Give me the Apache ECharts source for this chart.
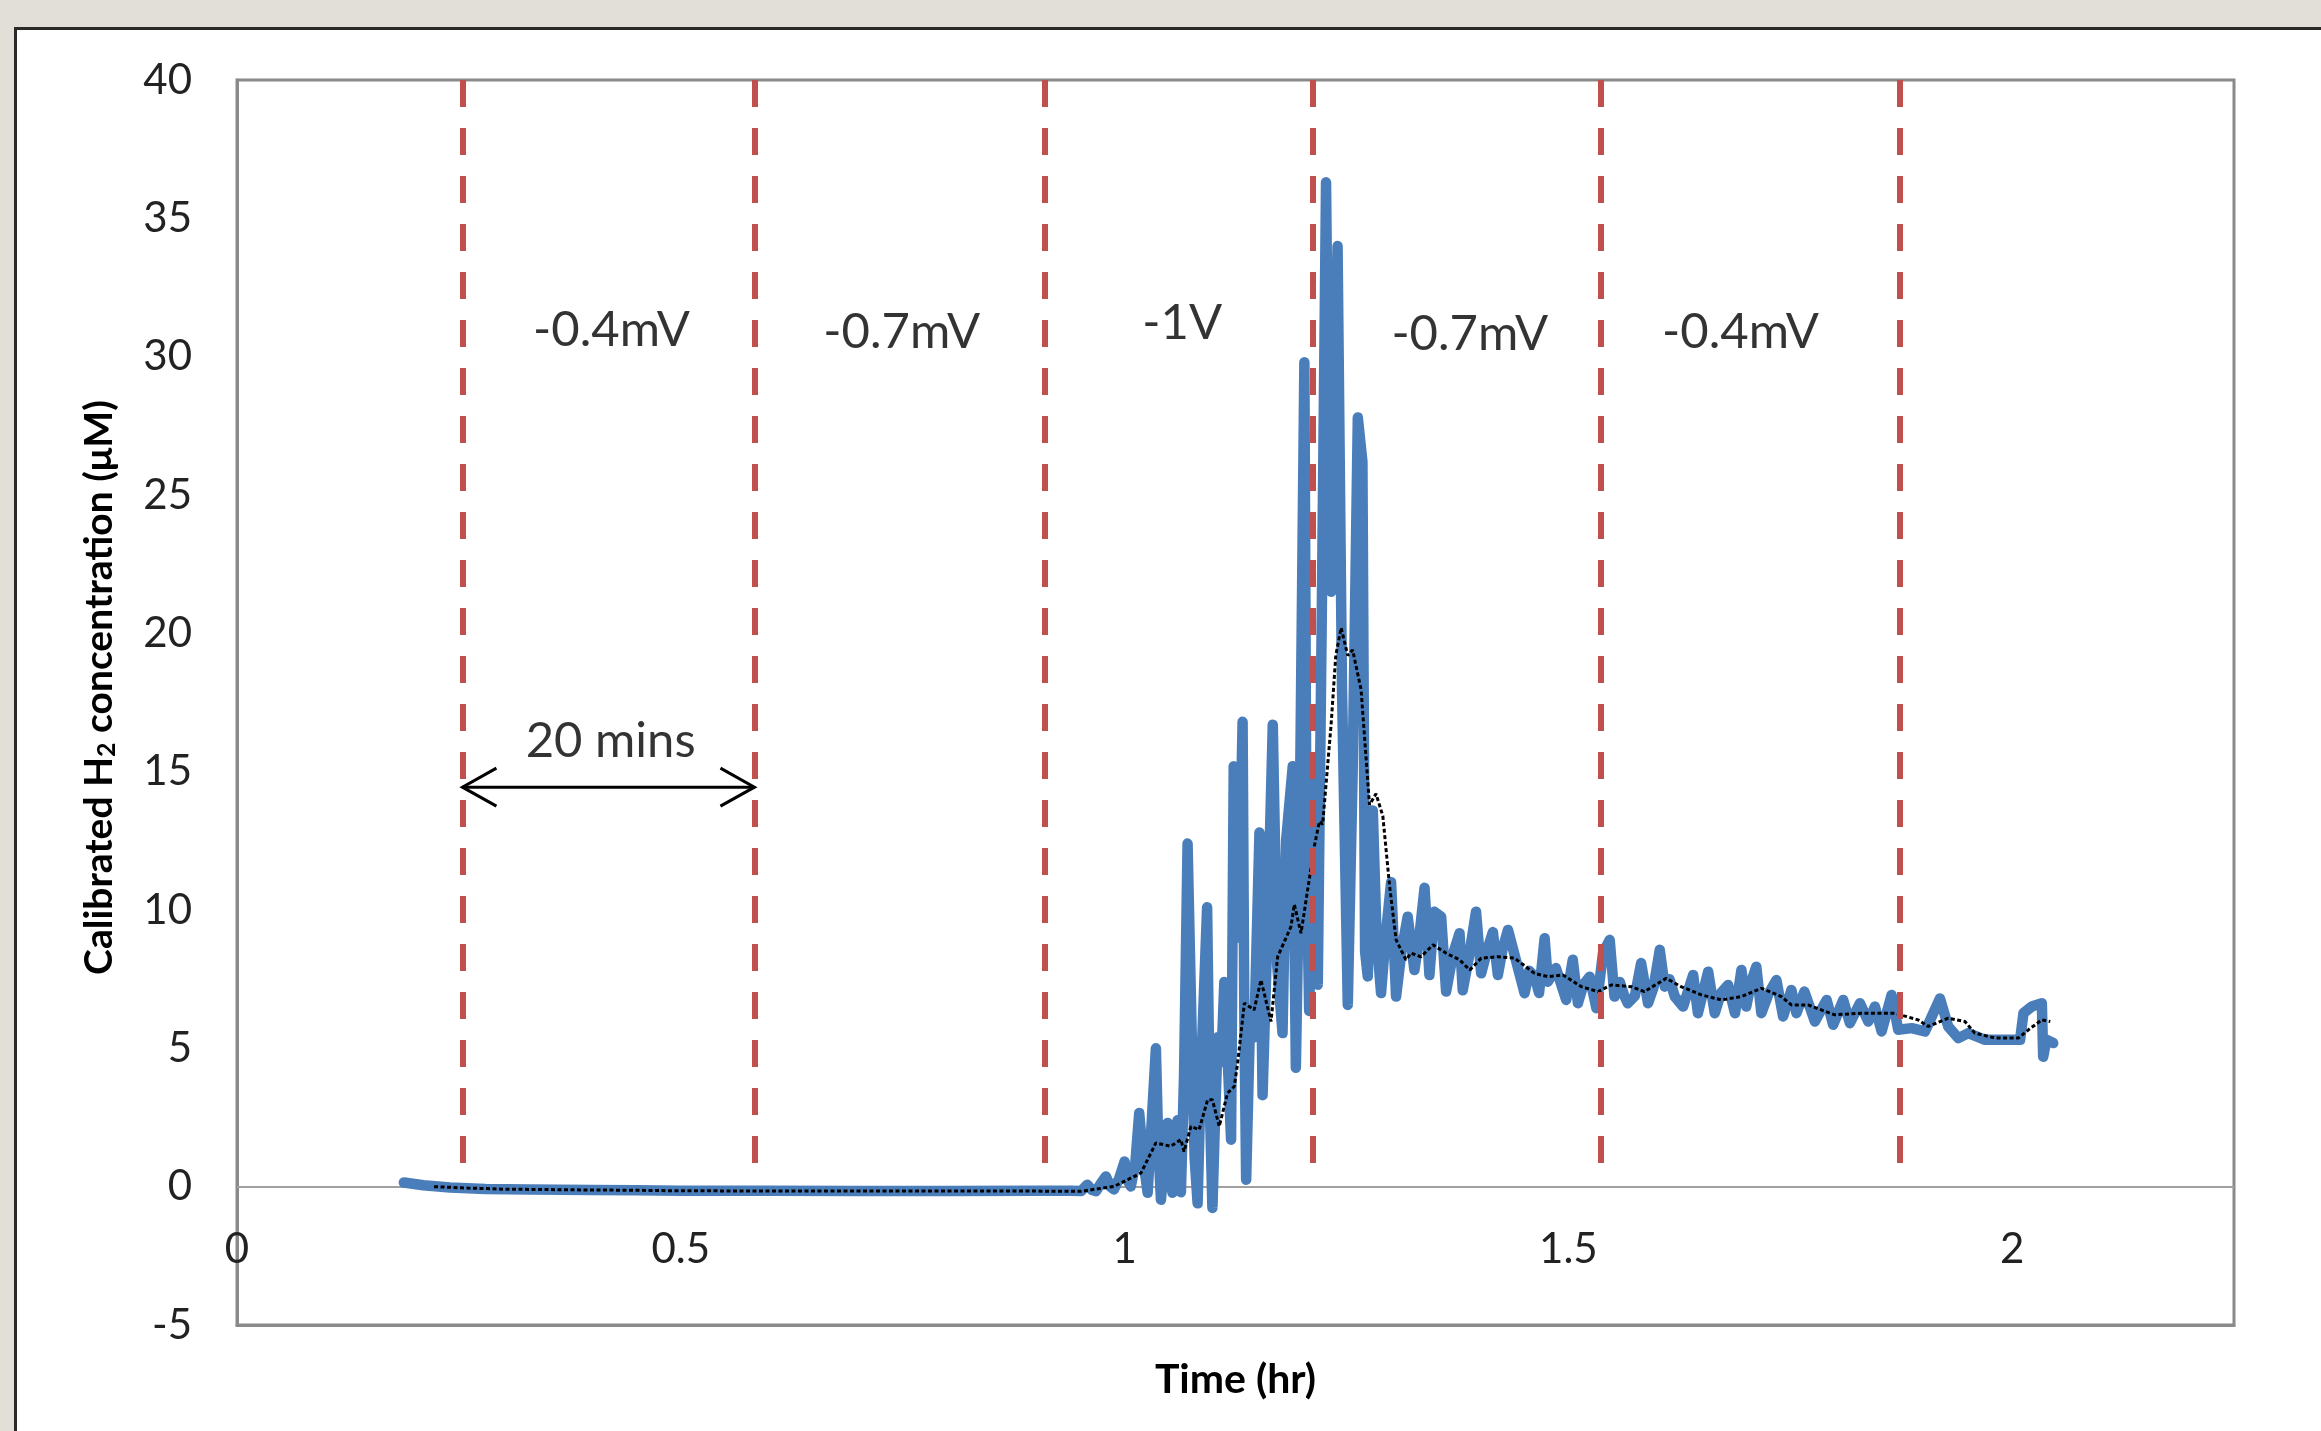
<!DOCTYPE html>
<html>
<head>
<meta charset="utf-8">
<script src="https://cdn.jsdelivr.net/npm/echarts@6/dist/echarts.min.js"></script>
<style>
  html, body { margin: 0; padding: 0; width: 2321px; height: 1431px; overflow: hidden; background: #e2dfd8; }
  #frame { position: absolute; left: 14px; top: 27px; width: 2400px; height: 1500px; background: #fff; border: 3px solid #2a2a2a; box-sizing: border-box; }
  #chart { position: absolute; left: 0; top: 0; width: 2321px; height: 1431px; }
</style>
</head>
<body>
<div id="frame"></div>
<div id="chart"></div>
<script>
// ---- Raw calibrated H2 concentration (blue trace) ----
const timeHr = [
  0.188, 0.21, 0.24, 0.28, 0.33, 0.40, 0.45, 0.50, 0.60, 0.70, 0.80, 0.90, 0.94,
  0.951, 0.958, 0.963, 0.968, 0.974, 0.979, 0.984, 0.988, 0.994, 1.000, 1.004, 1.007, 1.012,
  1.0165, 1.021, 1.026, 1.030, 1.0353, 1.038, 1.041, 1.045, 1.0485, 1.051, 1.054, 1.057, 1.0598,
  1.0635, 1.067, 1.071, 1.076, 1.079, 1.0823, 1.086, 1.093, 1.096, 1.099, 1.102, 1.105, 1.109,
  1.1124, 1.117, 1.120, 1.123, 1.127, 1.130, 1.133, 1.135, 1.137, 1.141, 1.146, 1.152, 1.1555,
  1.161, 1.167, 1.172, 1.178, 1.182, 1.1895, 1.193, 1.197, 1.2026, 1.205, 1.208, 1.214, 1.2177,
  1.222, 1.227, 1.2305, 1.2327, 1.240, 1.245, 1.2515, 1.257, 1.2628, 1.268, 1.271, 1.274, 1.2797,
  1.284, 1.289, 1.294, 1.3003, 1.3059, 1.312, 1.319, 1.3266, 1.332, 1.338, 1.3435, 1.349, 1.3567,
  1.3623, 1.370, 1.3774, 1.381, 1.388, 1.396, 1.4018, 1.409, 1.415, 1.4206, 1.426, 1.432, 1.4394,
  1.4507, 1.456, 1.462, 1.467, 1.4733, 1.477, 1.486, 1.4976, 1.505, 1.5108, 1.517, 1.524, 1.5316,
  1.539, 1.5466, 1.552, 1.558, 1.563, 1.567, 1.575, 1.582, 1.5898, 1.596, 1.603, 1.6086, 1.614,
  1.62, 1.6293, 1.6406, 1.646, 1.6575, 1.665, 1.672, 1.68, 1.6878, 1.695, 1.7005, 1.706, 1.7118,
  1.7175, 1.726, 1.7344, 1.742, 1.7513, 1.757, 1.766, 1.7778, 1.791, 1.7984, 1.8097, 1.8172,
  1.8285, 1.838, 1.8454, 1.853, 1.8642, 1.8717, 1.8868, 1.9018, 1.9187, 1.928, 1.9394, 1.9507,
  1.9695, 1.9883, 2.009, 2.0128, 2.022, 2.0335, 2.035, 2.0387, 2.0463
];
const h2Raw = [
  0.15, 0.05, -0.03, -0.08, -0.10, -0.12, -0.13, -0.15, -0.15, -0.16, -0.16, -0.15, -0.15,
  -0.16, 0.07, -0.12, -0.16, 0.15, 0.37, 0.0, -0.10, 0.30, 0.91, 0.20, 0.01, 0.80,
  2.66, 1.0, -0.22, 2.0, 5.0, 1.5, -0.47, 1.0, 2.3, 0.5, -0.22, 1.2, 2.4,
  -0.20, 4.0, 12.4, 5.0, 1.0, -0.6, 4.0, 10.1, 3.0, -0.77, 2.5, 5.4, 4.5,
  7.4, 4.0, 1.7, 15.2, 9.0, 12.0, 16.8, 6.0, 0.25, 5.5, 5.4, 12.8, 3.3,
  9.2, 16.7, 8.0, 5.55, 12.5, 15.2, 4.3, 12.0, 29.8, 12.0, 6.35, 15.0, 7.3,
  20.0, 36.3, 25.0, 21.5, 34.0, 18.0, 6.57, 15.0, 27.8, 26.2, 8.5, 7.6, 13.6,
  9.0, 7.0, 9.0, 11.0, 6.87, 8.5, 9.76, 7.83, 9.0, 10.8, 7.65, 9.94, 9.76,
  7.05, 8.4, 9.16, 7.1, 8.3, 9.94, 7.71, 8.6, 9.2, 7.65, 8.6, 9.28, 8.38,
  6.99, 7.8, 7.6, 7.0, 8.98, 7.41, 7.9, 6.75, 8.2, 6.63, 7.3, 7.59, 6.45,
  8.44, 8.92, 6.87, 7.4, 6.9, 6.63, 6.9, 8.08, 6.63, 7.2, 8.56, 7.23, 7.5,
  6.87, 6.51, 7.65, 6.27, 7.77, 6.27, 7.0, 7.29, 6.27, 7.83, 6.51, 7.4, 7.95,
  6.27, 7.0, 7.47, 6.15, 7.11, 6.27, 7.05, 5.97, 6.75, 5.85, 6.75, 5.91,
  6.63, 5.97, 6.51, 5.61, 6.93, 5.67, 5.73, 5.61, 6.8, 5.79, 5.37, 5.55,
  5.31, 5.31, 5.31, 6.27, 6.51, 6.63, 4.7, 5.31, 5.19
];

// ---- Moving average (black dotted trace) ----
const maTime = [
  0.222, 0.26, 0.30, 0.40, 0.45, 0.50, 0.70, 0.90, 0.9507, 0.9883, 1.0184, 1.0353, 1.052,
  1.0635, 1.067, 1.0748, 1.084, 1.0936, 1.099, 1.1067, 1.116, 1.1236, 1.1274, 1.135, 1.146,
  1.1537, 1.165, 1.1725, 1.1875, 1.1913, 1.1988, 1.2138, 1.2195, 1.2232, 1.2327, 1.238, 1.244,
  1.2515, 1.257, 1.2665, 1.276, 1.2833, 1.291, 1.2985, 1.306, 1.317, 1.3228, 1.334, 1.3475,
  1.3623, 1.3774, 1.389, 1.4018, 1.4206, 1.4394, 1.462, 1.477, 1.494, 1.5146, 1.5335, 1.5484,
  1.571, 1.5857, 1.6103, 1.627, 1.65, 1.6725, 1.695, 1.7175, 1.74, 1.7513, 1.77, 1.80, 1.83,
  1.8677, 1.894, 1.9056, 1.928, 1.9469, 1.958, 1.981, 2.007, 2.0184, 2.0335, 2.043
];
const maConc = [
  0.0, -0.05, -0.09, -0.12, -0.13, -0.15, -0.16, -0.16, -0.17, 0.01, 0.49, 1.58, 1.46,
  1.7, 1.27, 2.18, 2.06, 3.14, 3.14, 2.18, 3.38, 3.62, 4.47, 6.63, 6.39,
  7.47, 5.97, 8.31, 9.4, 10.2, 9.16, 12.3, 13.2, 13.1, 16.7, 19.2, 20.2,
  19.2, 19.4, 17.96, 13.8, 14.2, 13.4, 10.9, 8.92, 8.2, 8.44, 8.31, 8.74,
  8.44, 8.2, 7.83, 8.26, 8.31, 8.26, 7.71, 7.59, 7.65, 7.23, 7.05, 7.29,
  7.23, 7.05, 7.53, 7.23, 6.93, 6.75, 6.87, 7.17, 6.87, 6.57, 6.57, 6.21, 6.27,
  6.27, 6.03, 5.79, 6.09, 5.97, 5.55, 5.37, 5.37, 5.67, 6.03, 5.97
];

// ---- Annotations ----
const stepTimes = [0.254, 0.583, 0.910, 1.212, 1.537, 1.873];
const stepLineBottom = 0.2;
const stepLineTop = 40;
const regionLabels = ['-0.4mV', '-0.7mV', '-1V', '-0.7mV', '-0.4mV'];
const regionLabelTimes = [0.422, 0.749, 1.065, 1.389, 1.694];
const regionLabelConc = [30.95, 30.9, 31.2, 30.8, 30.9];
const spanLabel = '20 mins';
const spanLabelTime = 0.421;
const spanLabelConc = 16.1;
const arrowStart = 0.254, arrowEnd = 0.583, arrowConc = 14.44;
const zeroLevel = 0;

// ---- Axes ----
const xMin = 0, xMax = 2.25, xStep = 0.5;
const yMin = -5, yMax = 40, yStep = 5;

const FONT = 'Lato, "Open Sans", sans-serif';

const chart = echarts.init(document.getElementById('chart'), null, { renderer: 'canvas' });

const rawData = timeHr.map((t, i) => [t, h2Raw[i]]);
const maData = maTime.map((t, i) => [t, maConc[i]]);
const labelData = regionLabels.map((s, i) => ({ name: s, value: [regionLabelTimes[i], regionLabelConc[i]] }))
  .concat([{ name: spanLabel, value: [spanLabelTime, spanLabelConc] }]);

chart.setOption({
  backgroundColor: 'transparent',
  animation: false,
  grid: {
    left: 237, right: 87, top: 80, bottom: 106, show: true,
    borderColor: '#8a8a8a', borderWidth: 3, backgroundColor: 'transparent',
    containLabel: false, outerBoundsMode: 'none'
  },
  xAxis: {
    type: 'value', min: xMin, max: xMax, interval: xStep,
    name: 'Time (hr)', nameLocation: 'middle', nameGap: 34,
    nameTextStyle: { fontFamily: FONT, fontWeight: 'bold', fontSize: 41, color: '#000' },
    axisLine: { show: true, onZero: false, lineStyle: { color: '#8a8a8a', width: 3 } },
    axisTick: { show: false },
    splitLine: { show: false },
    axisLabel: {
      inside: true, margin: 55, fontFamily: FONT, fontSize: 42, color: '#222',
      formatter: v => (Math.abs(v / xStep - Math.round(v / xStep)) < 1e-9 ? String(v) : '')
    }
  },
  yAxis: {
    type: 'value', min: yMin, max: yMax, interval: yStep,
    name: 'Calibrated H{sub|2} concentration (μM)', nameLocation: 'middle', nameGap: 118,
    nameTextStyle: {
      fontFamily: FONT, fontWeight: 'bold', fontSize: 39, color: '#000', padding: [0, 0, 0, 30],
      rich: { sub: { fontFamily: FONT, fontWeight: 'bold', fontSize: 25, color: '#000', verticalAlign: 'bottom', padding: [14, 0, 0, 0] } }
    },
    axisLine: { show: true, onZero: false, lineStyle: { color: '#8a8a8a', width: 3 } },
    axisTick: { show: false },
    splitLine: { show: false },
    axisLabel: { margin: 45, fontFamily: FONT, fontSize: 42, color: '#222' }
  },
  series: [
    {
      name: 'raw', type: 'line', data: rawData, showSymbol: false, z: 2,
      lineStyle: { color: '#4a7ebb', width: 10.5, cap: 'round', join: 'round' },
      itemStyle: { color: '#4a7ebb' },
      markLine: {
        silent: true, symbol: ['none', 'none'], z: 1,
        label: { show: false },
        lineStyle: { color: '#a0a0a0', width: 2, type: 'solid' },
        data: [{ yAxis: zeroLevel }]
      }
    },
    {
      name: 'ma', type: 'line', data: maData, showSymbol: false, z: 3,
      lineStyle: { color: '#000', width: 3, type: [4, 2.5] },
      itemStyle: { color: '#000' },
      markLine: {
        silent: true, symbol: ['none', 'none'], z: 4,
        label: { show: false },
        lineStyle: { color: '#c0504d', width: 6, type: [27, 21] },
        data: stepTimes.map(t => [{ coord: [t, stepLineTop] }, { coord: [t, stepLineBottom] }])
      }
    },
    {
      name: 'arrow', type: 'custom', z: 5,
      data: [[arrowStart, arrowEnd, arrowConc]],
      encode: { x: [0, 1], y: 2 },
      renderItem: (params, api) => {
        const a = api.coord([api.value(0), api.value(2)]);
        const b = api.coord([api.value(1), api.value(2)]);
        const hx = 34, hy = 19;
        const st = { stroke: '#000', lineWidth: 3, fill: null, lineJoin: 'miter' };
        return {
          type: 'group', children: [
            { type: 'line', shape: { x1: a[0], y1: a[1], x2: b[0], y2: b[1] }, style: st },
            { type: 'polyline', shape: { points: [[a[0] + hx, a[1] - hy], [a[0], a[1]], [a[0] + hx, a[1] + hy]] }, style: st },
            { type: 'polyline', shape: { points: [[b[0] - hx, b[1] - hy], [b[0], b[1]], [b[0] - hx, b[1] + hy]] }, style: st }
          ]
        };
      }
    },
    {
      name: 'labels', type: 'scatter', data: labelData, symbolSize: 1, z: 6,
      itemStyle: { color: 'rgba(0,0,0,0)' },
      label: {
        show: true, position: 'inside', formatter: p => p.name,
        fontFamily: FONT, fontSize: 49, color: '#000'
      }
    }
  ]
});
</script>
</body>
</html>
